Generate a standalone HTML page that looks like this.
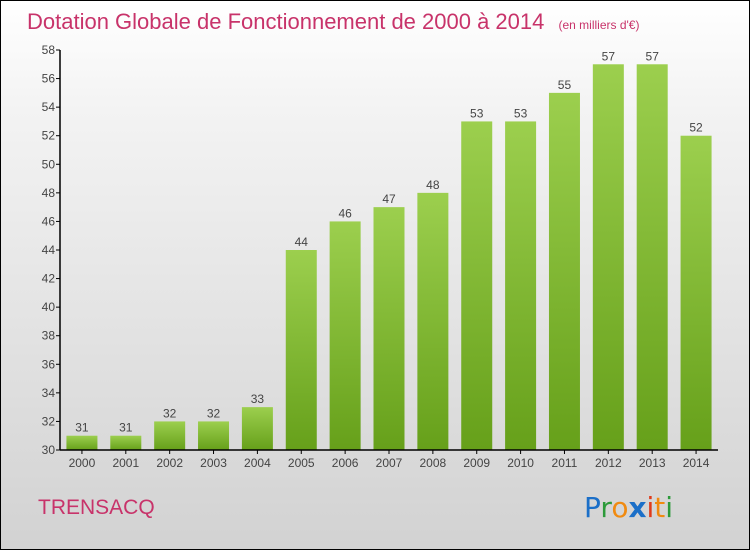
<!DOCTYPE html>
<html><head><meta charset="utf-8"><style>
body{margin:0}
#c{position:relative;width:748px;height:548px;border:1px solid #000;background:linear-gradient(#fff,#f3f3f3 20%,#d2d2d2);font-family:"Liberation Sans",sans-serif;overflow:hidden}
</style></head><body>
<div id="c">
<svg width="748" height="548">
<defs><linearGradient id="g" x1="0" x2="0" y1="0" y2="1"><stop offset="0" stop-color="#9ccf4e"/><stop offset="1" stop-color="#66a01a"/></linearGradient></defs>
<text x="26" y="28" font-size="22" fill="#c8336a" font-family="Liberation Sans, sans-serif">Dotation Globale de Fonctionnement de 2000 à 2014 <tspan font-size="12" dx="8">(en milliers d'€)</tspan></text>
<g id="plot"></g>
<text x="37" y="513" font-size="21" fill="#c8336a" font-family="Liberation Sans, sans-serif">TRENSACQ</text>
<text x="583" y="516" font-size="28" font-family="DejaVu Sans, sans-serif"><tspan fill="#1b6fc8">P</tspan><tspan fill="#2c9a3a">r</tspan><tspan fill="#f08a10">o</tspan><tspan fill="#1b6fc8" font-weight="bold">x</tspan><tspan fill="#e03a1a">i</tspan><tspan fill="#f08a10">t</tspan><tspan fill="#2c9a3a">i</tspan></text>
</svg></div>
<script>
const years=["2000","2001","2002","2003","2004","2005","2006","2007","2008","2009","2010","2011","2012","2013","2014"];
const values=[31,31,32,32,33,44,46,47,48,53,53,55,57,57,52];
const yTicks=[30,32,34,36,38,40,42,44,46,48,50,52,54,56,58];
const ns="http://www.w3.org/2000/svg",g=document.getElementById('plot');
const x0=59,xEnd=717,y0=449,yTop=49,vmin=30,vmax=58;
const y=v=>y0-(v-vmin)/(vmax-vmin)*(y0-yTop);
const step=(xEnd-x0)/years.length;
const xc=i=>x0+step*(i+0.5);
function mk(t,a){const e=document.createElementNS(ns,t);for(const k in a)e.setAttribute(k,a[k]);g.appendChild(e);return e;}
yTicks.forEach(v=>{const l=mk('line',{x1:x0-4,x2:x0,y1:y(v),y2:y(v),stroke:'#000'});


const t=mk('text',{x:x0-5,y:y(v)+4,'text-anchor':'end','font-size':12,fill:'#444'});t.textContent=v;

});
years.forEach((yr,i)=>{const v=values[i],bw=31;
const r=mk('rect',{x:xc(i)-bw/2,y:y(v),width:bw,height:y0-y(v),fill:'url(#g)'});


const t=mk('text',{x:xc(i),y:y(v)-4,'text-anchor':'middle','font-size':12,fill:'#444'});t.textContent=v;


const k=mk('line',{x1:xc(i),x2:xc(i),y1:y0,y2:y0+4,stroke:'#000'});


const xl=mk('text',{x:xc(i),y:y0+17,'text-anchor':'middle','font-size':12,fill:'#444'});xl.textContent=yr;

});
const ax=mk('line',{x1:x0,x2:x0,y1:yTop,y2:y0,stroke:'#000','stroke-width':1.5});


const bx=mk('line',{x1:x0,x2:xEnd,y1:y0,y2:y0,stroke:'#000','stroke-width':1.5});


</script>
</body></html>
